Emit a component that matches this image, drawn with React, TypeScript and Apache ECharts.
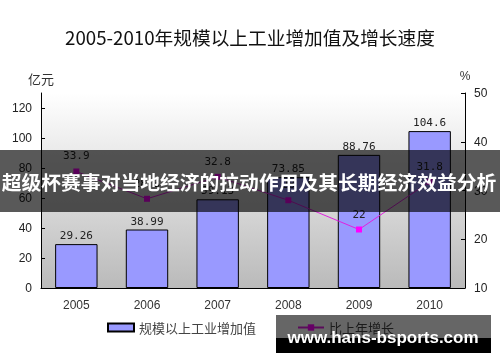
import React, { useEffect, useRef } from "react";
import * as echarts from "echarts";

const years = ["2005", "2006", "2007", "2008", "2009", "2010"];
const industryValue = [29.26, 38.99, 59.13, 73.85, 88.76, 104.6];
const growthRate = [33.9, 28.3, 32.8, 28.0, 22, 31.8];
const leftTicks = [0, 20, 40, 60, 80, 100, 120];
const rightTicks = [10, 20, 30, 40, 50];

const titleText = "2005-2010年规模以上工业增加值及增长速度";
const barName = "规模以上工业增加值";
const lineName = "比上年增长";
const bannerText = "超级杯赛事对当地经济的拉动作用及其长期经济效益分析";
const watermarkText = "www.hans-bsports.com";

export default function App() {
  const ref = useRef<HTMLDivElement>(null);

  useEffect(() => {
    if (!ref.current) return;
    const chart = echarts.init(ref.current, undefined, { renderer: "svg" });
    const cjk = "Noto Sans CJK SC";
    const mono = "DejaVu Sans Mono";
    const latin = "Liberation Sans";
    chart.setOption({
      animation: false,
      textStyle: { fontFamily: cjk },
      title: {
        text: titleText,
        left: "center",
        top: 22,
        textStyle: { fontSize: 18.7, fontWeight: "normal", color: "#111", fontFamily: cjk },
      },
      legend: {
        left: 102,
        top: 316,
        itemWidth: 26,
        itemHeight: 8,
        itemGap: 41,
        textStyle: { fontSize: 13, color: "#444", fontFamily: cjk },
        data: [{ name: barName, icon: "rect" }, { name: lineName }],
      },
      grid: {
        left: 41,
        right: 35,
        top: 93,
        bottom: 74,
        show: true,
        borderWidth: 0,
        backgroundColor: new echarts.graphic.LinearGradient(0, 0, 0, 1, [
          { offset: 0, color: "#ffffff" },
          { offset: 1, color: "#bababa" },
        ]),
      },
      xAxis: {
        type: "category",
        data: years,
        boundaryGap: true,
        axisLine: { lineStyle: { color: "#000", width: 1 } },
        axisTick: { inside: true, length: 4, lineStyle: { color: "#000" } },
        axisLabel: { margin: 11, fontSize: 12, color: "#333", fontFamily: latin },
      },
      yAxis: [
        {
          type: "value",
          min: 0,
          max: 130,
          interval: 20,
          name: "亿元",
          nameLocation: "end",
          nameGap: 8,
          nameTextStyle: { fontSize: 13, color: "#333", fontFamily: cjk, align: "center" },
          splitLine: { show: false },
          axisLine: { show: true, lineStyle: { color: "#000", width: 1 } },
          axisTick: { show: true, inside: true, length: 4, customValues: leftTicks, lineStyle: { color: "#000" } },
          axisLabel: { margin: 9, fontSize: 12, color: "#222", fontFamily: latin, customValues: leftTicks },
        },
        {
          type: "value",
          min: 10,
          max: 50,
          interval: 10,
          name: "%",
          nameLocation: "end",
          nameGap: 11,
          nameTextStyle: { fontSize: 12, color: "#333", fontFamily: latin, align: "center" },
          splitLine: { show: false },
          axisLine: { show: true, lineStyle: { color: "#000", width: 1 } },
          axisTick: { show: true, inside: true, length: 4, customValues: rightTicks, lineStyle: { color: "#000" } },
          axisLabel: { margin: 9, fontSize: 12, color: "#222", fontFamily: latin, customValues: rightTicks },
        },
      ],
      series: [
        {
          name: barName,
          type: "bar",
          data: industryValue,
          barCategoryGap: "40%",
          itemStyle: { color: "#9999ff", borderColor: "#000", borderWidth: 1 },
          label: { show: true, position: "top", distance: 3, fontSize: 11, color: "#222", fontFamily: mono },
          z: 2,
        },
        {
          name: lineName,
          type: "line",
          yAxisIndex: 1,
          data: growthRate,
          symbol: "rect",
          symbolSize: 6,
          itemStyle: { color: "#ff00ff" },
          lineStyle: { color: "#e020e0", width: 1 },
          label: { show: true, position: "top", distance: 7, fontSize: 11, color: "#222", fontFamily: mono },
          z: 3,
        },
      ],
      graphic: [
        {
          type: "rect",
          z: 100,
          shape: { x: 0, y: 150, width: 500, height: 62 },
          style: { fill: "rgba(0,0,0,0.65)" },
        },
        {
          type: "text",
          z: 101,
          x: 249,
          y: 181,
          style: {
            text: bannerText,
            fill: "#fff",
            fontSize: 19.8,
            fontWeight: "bold",
            fontFamily: cjk,
            textAlign: "center",
            textVerticalAlign: "middle",
          },
        },
        {
          type: "rect",
          z: 100,
          shape: { x: 276, y: 315, width: 215, height: 23 },
          style: { fill: "rgba(0,0,0,0.6)" },
        },
        {
          type: "rect",
          z: 100,
          shape: { x: 276, y: 338, width: 215, height: 15 },
          style: { fill: "#000" },
        },
        {
          type: "text",
          z: 101,
          x: 383,
          y: 337,
          style: {
            text: watermarkText,
            fill: "#fff",
            fontSize: 17,
            fontWeight: "bold",
            fontFamily: latin,
            textAlign: "center",
            textVerticalAlign: "middle",
          },
        },
      ],
    });
    return () => chart.dispose();
  }, []);

  return (
    <div
      ref={ref}
      style={{ position: "fixed", left: 0, top: 0, width: 500, height: 362 }}
    />
  );
}
